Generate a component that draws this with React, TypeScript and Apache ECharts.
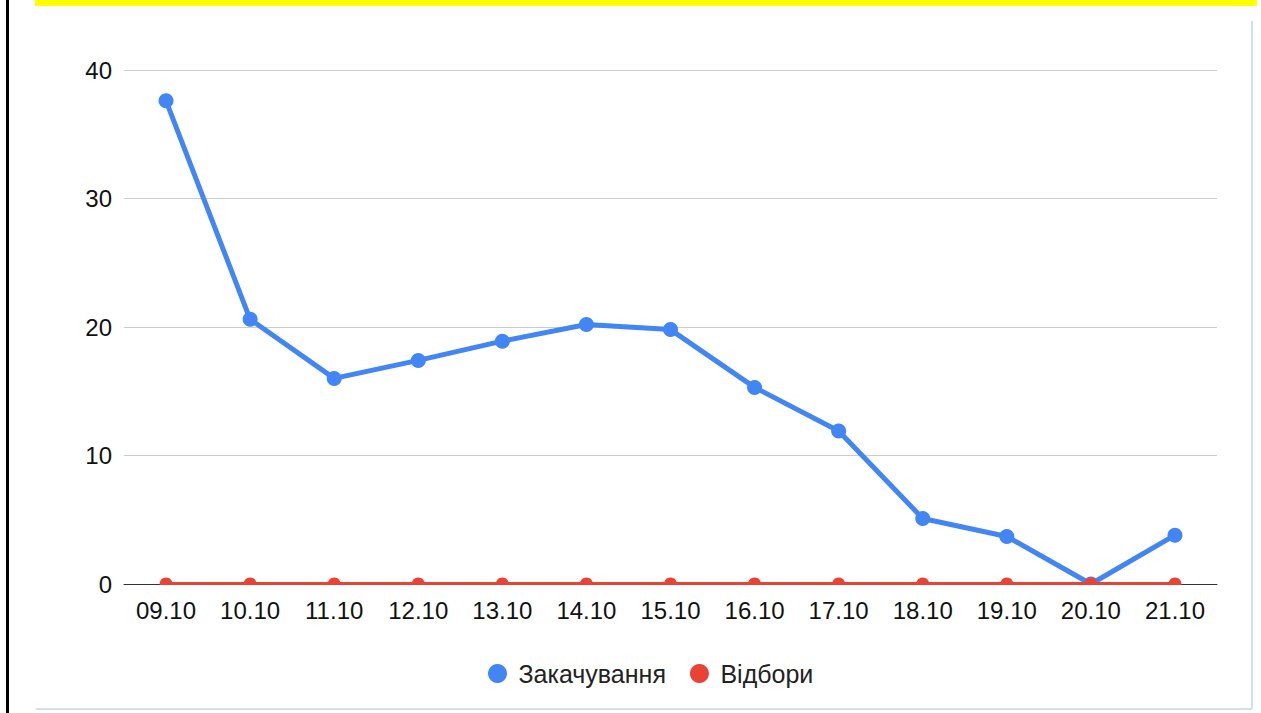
import React, { useEffect, useRef } from "react";
import * as echarts from "echarts";

const categories = ["09.10", "10.10", "11.10", "12.10", "13.10", "14.10", "15.10", "16.10", "17.10", "18.10", "19.10", "20.10", "21.10"];
const injection = [37.6, 20.6, 16.0, 17.4, 18.9, 20.2, 19.8, 15.3, 11.9, 5.1, 3.7, 0, 3.8];
const withdrawal = [0, 0, 0, 0, 0, 0, 0, 0, 0, 0, 0, 0, 0];
const seriesNames = ["Закачування", "Відбори"];

export default function App() {
  const ref = useRef<HTMLDivElement>(null);
  useEffect(() => {
    if (!ref.current) return;
    const chart = echarts.init(ref.current, null, { renderer: "svg" });
    chart.setOption({
      animation: false,
      backgroundColor: "#ffffff",
      textStyle: { fontFamily: "Liberation Sans, Arial, sans-serif" },
      graphic: [
        { type: "rect", shape: { x: 35, y: 0, width: 1222, height: 6 }, style: { fill: "#ffff00" }, silent: true },
        { type: "rect", shape: { x: 6, y: 0, width: 3, height: 713 }, style: { fill: "#000000" }, silent: true },
        { type: "line", shape: { x1: 1252, y1: 21, x2: 1252, y2: 709 }, style: { stroke: "#cfe0f0", lineWidth: 2 }, silent: true },
        { type: "line", shape: { x1: 36, y1: 709, x2: 1252, y2: 709 }, style: { stroke: "#cfe0f0", lineWidth: 2 }, silent: true },
        { type: "rect", z: 100, shape: { x: 124, y: 585, width: 1093, height: 9 }, style: { fill: "#ffffff" }, silent: true },
      ],
      grid: { left: 124, right: 44, top: 70, bottom: 129 },
      legend: {
        left: 483,
        top: 656,
        icon: "circle",
        itemWidth: 32,
        itemHeight: 19,
        itemGap: 24,
        textStyle: { fontSize: 25, color: "#222222", fontFamily: "Liberation Sans, Arial, sans-serif" },
        data: seriesNames,
      },
      xAxis: {
        type: "category",
        data: categories,
        boundaryGap: true,
        axisLine: { lineStyle: { color: "#333333", width: 1 } },
        axisTick: { show: false },
        axisLabel: { fontSize: 24, color: "#111111", margin: 14 },
      },
      yAxis: {
        type: "value",
        min: 0,
        max: 40,
        interval: 10,
        axisLine: { show: false },
        axisTick: { show: false },
        splitLine: { lineStyle: { color: "#cccccc", width: 1 } },
        axisLabel: { fontSize: 24, color: "#111111", margin: 12 },
      },
      series: [
        {
          name: seriesNames[0],
          type: "line",
          data: injection,
          color: "#4285f4",
          lineStyle: { width: 5, color: "#4285f4" },
          symbol: "circle",
          symbolSize: 15,
          itemStyle: { color: "#4285f4" },
          z: 2,
        },
        {
          name: seriesNames[1],
          type: "line",
          data: withdrawal,
          color: "#ea4335",
          lineStyle: { width: 4, color: "#ea4335" },
          symbol: "circle",
          symbolSize: 13,
          itemStyle: { color: "#ea4335" },
          z: 3,
        },
      ],
    });
    return () => chart.dispose();
  }, []);
  return <div ref={ref} style={{ position: "fixed", left: 0, top: 0, width: 1261, height: 713 }} />;
}
